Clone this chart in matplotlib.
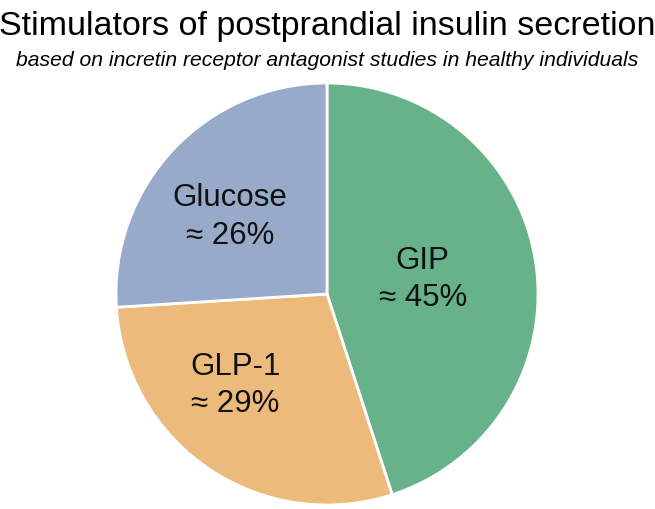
import numpy as np
import matplotlib.pyplot as plt

plt.rcParams['font.family'] = ['Liberation Sans', 'DejaVu Sans']

labels = ['GIP', 'GLP-1', 'Glucose']
shares = [45, 29, 26]
colors = ['#68b28a', '#ecbb7c', '#97aac9']

# radius and angle nudge of each label (fraction of radius, degrees)
label_r = [0.46, 0.61, 0.59]
label_dang = [0.3, -11, 4.5]

fig = plt.figure(figsize=(6.55, 5.10), dpi=100)
ax = fig.add_axes([112 / 655, 0, 430 / 655, 430 / 510])

R = 211 / 215
wedges, _ = ax.pie(shares, colors=colors, startangle=90, counterclock=False,
                   radius=R, wedgeprops=dict(edgecolor='white', linewidth=2))
ax.set_xlim(-1, 1)
ax.set_ylim(-1, 1)
ax.set_aspect('equal')

for w, lab, val, r, da in zip(wedges, labels, shares, label_r, label_dang):
    ang = np.deg2rad((w.theta1 + w.theta2) / 2 + da)
    x, y = r * R * np.cos(ang), r * R * np.sin(ang)
    ax.text(x, y, f'{lab}\n\u2248 {val}%', ha='center', va='center',
            fontsize=22.5, linespacing=1.33, color='#111111')

fig.text(0.5, 1 - 27 / 510, 'Stimulators of postprandial insulin secretion',
         ha='center', va='center', fontsize=24.5)
fig.text(0.5, 1 - 60 / 510,
         'based on incretin receptor antagonist studies in healthy individuals',
         ha='center', va='center', fontsize=15.2, style='italic')

fig.savefig('out.png', dpi=100)
